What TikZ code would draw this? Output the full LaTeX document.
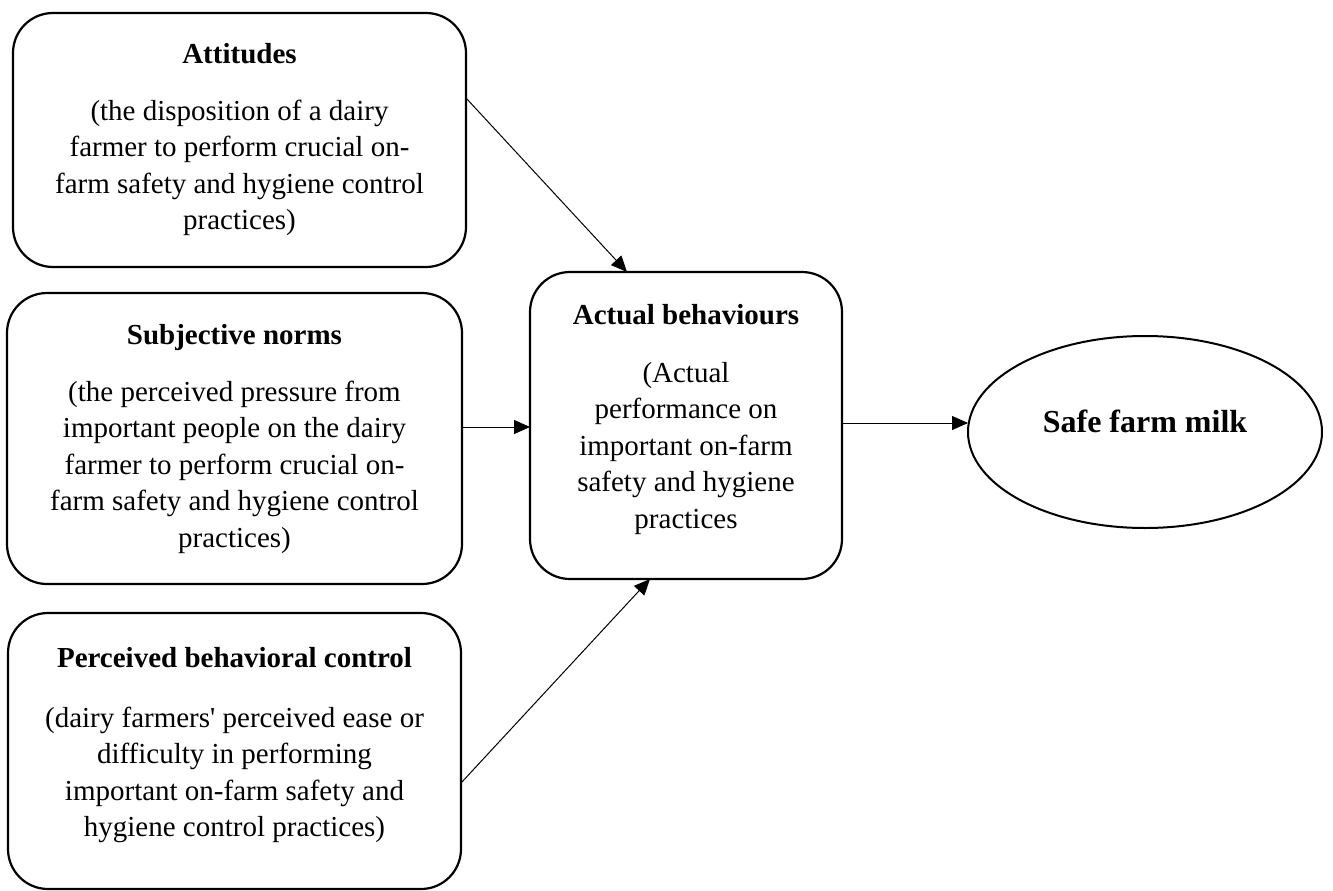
\documentclass[tikz,border=0pt]{standalone}
\usepackage{fontspec}
\setmainfont{Liberation Serif}
\usetikzlibrary{arrows.meta,shapes.geometric}
\newcommand{\bxt}[6]{\parbox[c][#2][t]{#1}{\centering\fontsize{29}{36.5}\selectfont\vspace*{#3}\strut\textbf{#5}\\[#4]#6\par}}
\begin{document}
\begin{tikzpicture}[x=1pt,y=-1pt,
  box/.style={draw,line width=2.2pt,rounded corners=40pt,inner sep=0pt,outer sep=0pt},
  arr/.style={line width=1pt,-{Triangle[length=16pt,width=14pt]}},
  oval/.style={draw,ellipse,line width=2pt,minimum width=354pt,minimum height=192pt,inner sep=0pt,outer sep=0pt,text height=0pt,text depth=0pt,font=\fontsize{32}{38}\selectfont\bfseries}]
\useasboundingbox (0,0) rectangle (1333,891);
\node[box] (att) at (239.5,140) {\bxt{453pt}{254pt}{24.5pt}{20.5pt}{Attitudes}{(the disposition of a dairy\\farmer to perform crucial on-\\farm safety and hygiene control\\practices)}};
\node[box] (sub) at (234.5,438.5) {\bxt{455pt}{291pt}{25.5pt}{20.5pt}{Subjective norms}{(the perceived pressure from\\important people on the dairy\\farmer to perform crucial on-\\farm safety and hygiene control\\practices)}};
\node[box] (perc) at (234.5,751) {\bxt{453pt}{276pt}{28.5pt}{23.5pt}{Perceived behavioral control}{(dairy farmers\textquotesingle\ perceived ease or\\difficulty in performing\\important on-farm safety and\\hygiene control practices)}};
\node[box] (act) at (686,425.5) {\bxt{312pt}{307pt}{26.5pt}{21.5pt}{Actual behaviours}{(Actual\\performance on\\important on-farm\\safety and hygiene\\practices}};
\node[oval] (milk) at (1145,432) {Safe farm milk};
\draw[arr] ([yshift=42pt]att.east) -- ([xshift=-59pt]act.north);
\draw[arr] ([yshift=11.5pt]sub.east) -- ([yshift=-1.5pt]act.west);
\draw[arr] ([yshift=-32pt]perc.east) -- ([xshift=-36pt]act.south);
\draw[arr] ([yshift=2.5pt]act.east) -- ([yshift=9pt]milk.west);
\end{tikzpicture}
\end{document}
